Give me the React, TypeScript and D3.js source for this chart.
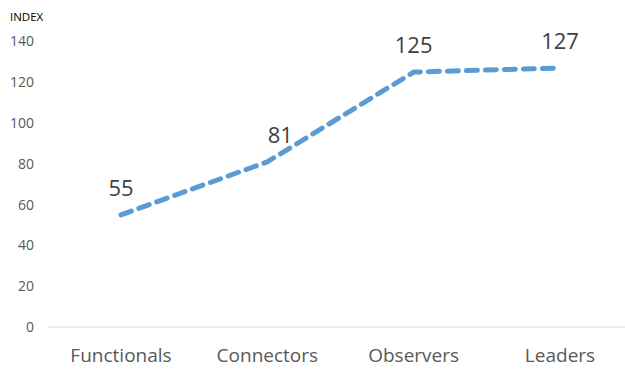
import React from "react";
import * as d3 from "d3";

const categories = ["Functionals", "Connectors", "Observers", "Leaders"];
const values = [55, 81, 125, 127];
const yTicks = [0, 20, 40, 60, 80, 100, 120, 140];

const W = 625;
const H = 370;
const FONT = "'Open Sans', 'Noto Sans', sans-serif";

export default function App() {
  const x = d3.scalePoint<string>().domain(categories).range([121, 560]);
  const y = d3.scaleLinear().domain([0, 140]).range([327, 41.5]);
  const line = d3
    .line<number>()
    .x((_, i) => x(categories[i]) as number)
    .y((d) => y(d));

  return (
    <svg
      width={W}
      height={H}
      style={{ position: "absolute", left: 0, top: 0, background: "#fff" }}
    >
      <text x={10} y={21} fontFamily={FONT} fontSize={11.5} fill="#000">
        INDEX
      </text>
      {yTicks.map((t) => (
        <text
          key={t}
          x={34}
          y={y(t)}
          dy="0.35em"
          textAnchor="end"
          fontFamily={FONT}
          fontSize={14}
          fill="#595959"
        >
          {t}
        </text>
      ))}
      <line x1={48} x2={625} y1={y(0)} y2={y(0)} stroke="#d9d9d9" strokeWidth={1} />
      <path
        d={line(values) || ""}
        fill="none"
        stroke="#5B9BD5"
        strokeWidth={5}
        strokeDasharray="11 8"
        strokeLinecap="round"
        strokeLinejoin="round"
      />
      {values.map((v, i) => (
        <text
          key={i}
          x={(x(categories[i]) as number) + (i === 1 ? 13 : 0)}
          y={y(v) - 19}
          textAnchor="middle"
          fontFamily={FONT}
          fontSize={22}
          fill="#404040"
        >
          {v}
        </text>
      ))}
      {categories.map((c) => (
        <text
          key={c}
          x={x(c) as number}
          y={362}
          textAnchor="middle"
          fontFamily={FONT}
          fontSize={19}
          fill="#595959"
        >
          {c}
        </text>
      ))}
    </svg>
  );
}
